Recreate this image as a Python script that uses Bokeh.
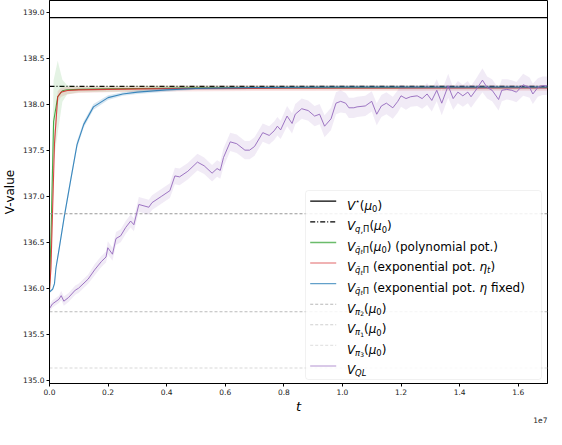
import numpy as np
from bokeh.plotting import figure
from bokeh.models import (Range1d, FixedTicker, BoxAnnotation, Label, Arrow, Title,
                          CustomJSTickFormatter)
from bokeh.embed import file_html
from bokeh.resources import INLINE

# ---------------- data (t in units of 1e6 steps) ----------------
T_UNIT = 1e6

V_STAR = 138.94
V_Q_PI = 138.192
V_PI2 = 136.81
V_PI1 = 135.745
V_PI3 = 135.135

green_t = [0, 0.05, 0.14, 0.28, 0.44, 0.6, 1.0, 2.0, 3.0, 5.0, 17.0]
green_v = [135.98, 136.56, 137.81, 138.08, 138.145, 138.155, 138.16, 138.165, 138.17, 138.178, 138.18]
green_s = [0.02, 0.25, 0.45, 0.39, 0.12, 0.05, 0.03, 0.03, 0.03, 0.02, 0.02]

red_t = [0, 0.05, 0.17, 0.28, 0.39, 0.61, 1.0, 2.0, 4.0, 8.0, 17.0]
red_v = [135.98, 136.22, 137.57, 138.08, 138.128, 138.148, 138.155, 138.16, 138.168, 138.172, 138.175]
red_s = [0.02, 0.08, 0.10, 0.06, 0.05, 0.04, 0.035, 0.03, 0.03, 0.03, 0.03]

blue_t = [0, 0.11, 0.17, 0.22, 0.33, 0.5, 0.72, 0.94, 1.17, 1.5, 2.0, 2.5, 3.0, 4.0, 5.0, 7.0, 10.0, 17.0]
blue_v = [135.96, 135.99, 136.05, 136.22, 136.43, 136.77, 137.17, 137.56, 137.78, 137.97, 138.07, 138.11, 138.13, 138.155, 138.17, 138.18, 138.185, 138.185]
blue_s = [0.01, 0.015, 0.02, 0.03, 0.04, 0.04, 0.04, 0.04, 0.035, 0.03, 0.025, 0.02, 0.02, 0.02, 0.015, 0.015, 0.015, 0.015]

ql_t = [0, 0.1, 0.32, 0.40, 0.49, 0.65, 0.88, 0.99, 1.32, 1.54, 1.77, 1.93, 1.99, 2.15, 2.27, 2.43, 2.60, 2.77, 2.88,
        3.05, 3.39, 3.50, 3.83, 4.11, 4.28, 4.44, 4.72, 5.05, 5.28, 5.55, 5.72, 5.83, 5.94, 6.17, 6.39, 6.67, 6.83,
        7.00, 7.28, 7.50, 7.67, 7.78, 7.89, 8.11, 8.28, 8.39, 8.61, 8.83, 9.05, 9.22, 9.39, 9.61, 9.78, 9.94, 10.11,
        10.22, 10.39, 10.50, 10.78, 11.00, 11.17, 11.33, 11.50, 11.72, 11.89, 12.00, 12.17, 12.33, 12.55, 12.72,
        12.89, 13.05, 13.22, 13.39, 13.61, 13.78, 13.94, 14.11, 14.28, 14.39, 14.55, 14.78, 14.94, 15.11, 15.33,
        15.44, 15.61, 15.78, 15.94, 16.17, 16.39, 16.50, 16.67, 16.83, 17.00]
ql_v = [135.78, 135.83, 135.88, 135.92, 135.86, 135.90, 135.98, 136.00, 136.10, 136.20, 136.29, 136.34, 136.44,
        136.37, 136.54, 136.57, 136.66, 136.73, 136.69, 136.91, 136.88, 136.93, 137.00, 137.06, 137.22, 137.21,
        137.27, 137.37, 137.33, 137.25, 137.30, 137.28, 137.42, 137.59, 137.57, 137.50, 137.50, 137.54, 137.69,
        137.66, 137.71, 137.76, 137.72, 137.87, 137.79, 137.89, 137.95, 137.93, 137.87, 137.89, 137.76, 137.84,
        138.01, 138.03, 138.01, 137.96, 137.96, 137.97, 137.98, 138.03, 137.89, 137.98, 138.01, 137.96, 138.03,
        138.09, 138.06, 138.08, 138.09, 138.06, 138.11, 138.04, 138.15, 138.01, 138.20, 138.06, 138.13, 138.09,
        138.13, 138.08, 138.15, 138.26, 138.18, 138.15, 138.05, 138.15, 138.16, 138.15, 138.13, 138.21, 138.18,
        138.11, 138.18, 138.20, 138.20]
ql_s = [0.04, 0.04, 0.04, 0.05, 0.05, 0.05, 0.05, 0.05, 0.05, 0.06, 0.06, 0.06, 0.07, 0.07, 0.07, 0.07, 0.07, 0.07, 0.07,
        0.08, 0.08, 0.08, 0.08, 0.08, 0.09, 0.09, 0.09, 0.09, 0.09, 0.09, 0.09, 0.09, 0.10, 0.10, 0.10, 0.10, 0.10,
        0.10, 0.10, 0.10,
        0.10, 0.10, 0.10, 0.11, 0.11, 0.11, 0.11, 0.11, 0.11, 0.11, 0.12, 0.12, 0.12, 0.12, 0.11, 0.11, 0.11, 0.11,
        0.11, 0.11,
        0.12, 0.12, 0.12, 0.12, 0.12, 0.12, 0.12, 0.11, 0.11, 0.11, 0.12, 0.12, 0.12, 0.13, 0.13, 0.12, 0.12, 0.12,
        0.12, 0.12,
        0.12, 0.13, 0.12, 0.12, 0.12, 0.12, 0.11, 0.11, 0.11, 0.12, 0.11, 0.11, 0.10, 0.10, 0.10]

x_ticks = [0, 2e6, 4e6, 6e6, 8e6, 10e6, 12e6, 14e6, 16e6]
y_ticks = [135.0, 135.5, 136.0, 136.5, 137.0, 137.5, 138.0, 138.5, 139.0]

# ---------------- figure ----------------
FONT = "DejaVu Sans"
FW, FH = 498, 383

p = figure(frame_width=FW, frame_height=FH, min_border_left=44, min_border_right=4,
           min_border_top=0, min_border_bottom=45,
           x_range=Range1d(0, 1.7e7), y_range=Range1d(134.966, 139.125),
           output_backend="svg", toolbar_location=None)
p.background_fill_color = "white"
p.border_fill_color = "white"
p.outline_line_color = "black"
p.outline_line_width = 1
p.xgrid.visible = False
p.ygrid.visible = False

for ax in (p.xaxis[0], p.yaxis[0]):
    ax.major_label_text_font = FONT
    ax.major_label_text_font_size = "7.5px"
    ax.major_label_text_color = "#222222"
    ax.major_tick_out = 3
    ax.major_tick_in = 0
    ax.minor_tick_out = 0
    ax.minor_tick_in = 0
    ax.axis_line_color = "black"
    ax.major_tick_line_color = "black"
    ax.major_label_standoff = 2
    ax.axis_label_text_font = FONT
    ax.axis_label_text_font_size = "12px"
    ax.axis_label_text_color = "black"

p.xaxis.ticker = FixedTicker(ticks=x_ticks)
p.yaxis.ticker = FixedTicker(ticks=y_ticks)
p.xaxis.formatter = CustomJSTickFormatter(code="return (tick / 1e7).toFixed(1);")
p.yaxis.formatter = CustomJSTickFormatter(code="return tick.toFixed(1);")
p.xaxis.axis_label = "t"
p.xaxis.axis_label_text_font_style = "italic"
p.xaxis.axis_label_text_font_size = "13px"
p.xaxis.axis_label_standoff = 1
p.yaxis.axis_label = "V-value"
p.yaxis.axis_label_text_font_style = "normal"
p.yaxis.axis_label_standoff = 3

# scientific offset text of the x axis
p.add_layout(Title(text="1e7", align="right", text_font=FONT, text_font_size="7.5px",
                   text_font_style="normal", text_color="#222222", standoff=0, offset=0,
                   vertical_align="top"), "below")

t0, t1 = ql_t[0] * T_UNIT, ql_t[-1] * T_UNIT

GREEN, RED, BLUE, PURPLE = "#2ca02c", "#d62728", "#1f77b4", "#9467bd"


def series(t, v, s):
    x = np.array(t) * T_UNIT
    v = np.array(v)
    s = np.array(s)
    return x, v, v - s, v + s


# constant reference lines
p.line([t0, t1], [V_STAR, V_STAR], line_color="black", line_width=1.2)
p.line([t0, t1], [V_Q_PI, V_Q_PI], line_color="black", line_width=1.2, line_dash="5 2 1 2")

for (t, v, s, col, fa) in [(green_t, green_v, green_s, GREEN, 0.13),
                           (red_t, red_v, red_s, RED, 0.13),
                           (blue_t, blue_v, blue_s, BLUE, 0.18)]:
    x, y, lo, hi = series(t, v, s)
    p.varea(x=x, y1=lo, y2=hi, fill_color=col, fill_alpha=fa)
    p.line(x, y, line_color=col, line_width=1.1, line_alpha=0.85)

p.line([t0, t1], [V_PI2, V_PI2], line_color="#999999", line_width=1.1, line_dash="3 2")
p.line([t0, t1], [V_PI1, V_PI1], line_color="#bbbbbb", line_width=1.1, line_dash="3 2")
p.line([t0, t1], [V_PI3, V_PI3], line_color="#d8d8d8", line_width=1.1, line_dash="3 2")

x, y, lo, hi = series(ql_t, ql_v, ql_s)
p.varea(x=x, y1=lo, y2=hi, fill_color=PURPLE, fill_alpha=0.13)
p.line(x, y, line_color=PURPLE, line_width=1.0, line_alpha=0.9)

# ---------------- legend (manual, for sub/superscripts) ----------------
EM = {' ': 0.318, '(': 0.390, ')': 0.390, '.': 0.318, ',': 0.318, 'V': 0.684, 'Q': 0.787, 'L': 0.557,
      'Π': 0.752, 'μ': 0.636, 'π': 0.602, 'η': 0.634, '⋆': 0.55, 'q': 0.635, 't': 0.392, 'a': 0.613,
      'e': 0.615, 'x': 0.592, 'p': 0.635, 'o': 0.612, 'n': 0.634, 'i': 0.278, 'l': 0.278, 'y': 0.592,
      'm': 0.974, 'f': 0.352, 'd': 0.635, '\u0304': 0.0}
for dgt in "0123456789":
    EM[dgt] = 0.636

LEVEL = {0: (12.0, 0.0), 1: (8.4, -3.0), 2: (6.0, -5.0), 'sup': (8.4, 4.5)}


def tw(text, size):
    return sum(EM.get(ch, 0.6) for ch in text) * size


I, N = "italic", "normal"
legend_rows = [
    ("black", None, 1.2, [("V", 0, I), ("⋆", 'sup', N), ("(", 0, N), ("μ", 0, I), ("0", 1, N), (")", 0, N)]),
    ("black", "5 2 1 2", 1.2, [("V", 0, I), ("q", 1, I), (",", 1, N), ("Π", 1, N), ("(", 0, N), ("μ", 0, I),
                               ("0", 1, N), (")", 0, N)]),
    (GREEN, None, 1.5, [("V", 0, I), ("q\u0304", 1, I), ("t", 2, I), ("Π", 1, N), ("(", 0, N), ("μ", 0, I),
                        ("0", 1, N), (")", 0, N), (" (polynomial pot.)", 0, N)]),
    (RED, None, 1.2, [("V", 0, I), ("q\u0304", 1, I), ("t", 2, I), ("Π", 1, N), (" (exponential pot. ", 0, N),
                      ("η", 0, I), ("t", 1, I), (")", 0, N)]),
    (BLUE, None, 1.2, [("V", 0, I), ("q\u0304", 1, I), ("t", 2, I), ("Π", 1, N), (" (exponential pot. ", 0, N),
                       ("η", 0, I), (" fixed)", 0, N)]),
    ("#999999", "3 2", 1.1, [("V", 0, I), ("π", 1, I), ("2", 2, N), ("(", 0, N), ("μ", 0, I), ("0", 1, N),
                             (")", 0, N)]),
    ("#bbbbbb", "3 2", 1.1, [("V", 0, I), ("π", 1, I), ("1", 2, N), ("(", 0, N), ("μ", 0, I), ("0", 1, N),
                             (")", 0, N)]),
    ("#d8d8d8", "3 2", 1.1, [("V", 0, I), ("π", 1, I), ("3", 2, N), ("(", 0, N), ("μ", 0, I), ("0", 1, N),
                             (")", 0, N)]),
    (PURPLE, None, 1.2, [("V", 0, I), ("QL", 1, I)]),
]

BOX_W, BOX_H = 236, 189
box_right = FW - 6
box_left = box_right - BOX_W
box_bottom = 4
box_top = box_bottom + BOX_H

p.add_layout(BoxAnnotation(left=box_left, right=box_right, bottom=box_bottom, top=box_top,
                           left_units="screen", right_units="screen", bottom_units="screen",
                           top_units="screen", fill_color="white", fill_alpha=0.85,
                           line_color="#d0d0d0", line_width=1, border_radius=3))

for i, (col, dash, lw, pieces) in enumerate(legend_rows):
    cy = box_top - 10.7 - 20.6 * i
    p.add_layout(Arrow(x_start=box_left + 4.7, y_start=cy, x_end=box_left + 30.7, y_end=cy,
                       start_units="screen", end_units="screen", start=None, end=None,
                       line_color=col, line_width=lw, line_alpha=0.7 if col not in ("black",) else 1.0,
                       line_dash=dash if dash else "solid"))
    xpos = box_left + 41.4
    base = cy - 4.3
    for text, lvl, style in pieces:
        size, dy = LEVEL[lvl]
        stripped = text.lstrip(" ")
        xpos += tw(text[:len(text) - len(stripped)], size)
        core = stripped.rstrip(" ")
        p.add_layout(Label(x=xpos, y=base + dy, x_units="screen", y_units="screen", text=core,
                           text_font=FONT, text_font_size=f"{size}px", text_font_style=style,
                           text_color="black", text_align="left", text_baseline="alphabetic"))
        xpos += tw(stripped, size)

open("out.html", "w").write(file_html(p, INLINE))
